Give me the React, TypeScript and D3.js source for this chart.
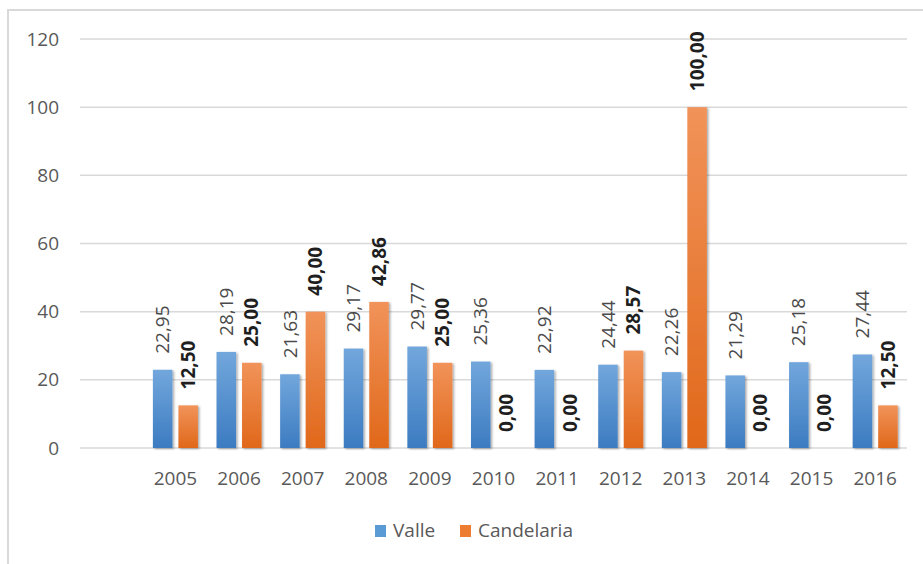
import React, { useEffect, useRef } from 'react';
import * as d3 from 'd3';

const years = ['2005', '2006', '2007', '2008', '2009', '2010', '2011', '2012', '2013', '2014', '2015', '2016'];
const valle = [22.95, 28.19, 21.63, 29.17, 29.77, 25.36, 22.92, 24.44, 22.26, 21.29, 25.18, 27.44];
const candelaria = [12.5, 25, 40, 42.86, 25, 0, 0, 28.57, 100, 0, 0, 12.5];
const seriesNames = ['Valle', 'Candelaria'];
const yTicks = [0, 20, 40, 60, 80, 100, 120];

const FONT = '"Open Sans", "Liberation Sans", sans-serif';
const FS = '19px';

const App = () => {
  const ref = useRef<SVGSVGElement>(null);

  useEffect(() => {
    const svg = d3.select(ref.current);
    svg.selectAll('*').remove();

    // Excel leaves an empty first category, so the band starts with ''
    const x0 = d3.scaleBand().domain(['', ...years]).range([80, 907]).paddingInner(0.292).paddingOuter(0.146);
    const x1 = d3.scaleBand().domain(seriesNames).range([0, x0.bandwidth()]).paddingInner(0.235);
    const y = d3.scaleLinear().domain([0, 120]).range([448, 39]);

    const defs = svg.append('defs');
    const grads = [
      { id: 'gValle', top: '#72a7dc', bottom: '#3c7bc1' },
      { id: 'gCand', top: '#f1935a', bottom: '#e0681a' },
    ];
    grads.forEach((g) => {
      const lg = defs.append('linearGradient').attr('id', g.id).attr('x1', 0).attr('y1', 0).attr('x2', 0).attr('y2', 1);
      lg.append('stop').attr('offset', '0%').attr('stop-color', g.top);
      lg.append('stop').attr('offset', '100%').attr('stop-color', g.bottom);
    });
    defs
      .append('filter')
      .attr('id', 'shadow')
      .attr('x', '-20%')
      .attr('y', '-5%')
      .attr('width', '160%')
      .attr('height', '115%')
      .append('feDropShadow')
      .attr('dx', 1.5)
      .attr('dy', 1)
      .attr('stdDeviation', 1.3)
      .attr('flood-color', '#000')
      .attr('flood-opacity', 0.35);

    // chart frame
    svg
      .append('rect')
      .attr('x', 8)
      .attr('y', 10)
      .attr('width', 940)
      .attr('height', 600)
      .attr('fill', '#fff')
      .attr('stroke', '#d9d9d9')
      .attr('stroke-width', 2);

    // gridlines
    svg
      .append('g')
      .selectAll('line')
      .data(yTicks)
      .enter()
      .append('line')
      .attr('x1', 80)
      .attr('x2', 907)
      .attr('y1', (d) => y(d))
      .attr('y2', (d) => y(d))
      .attr('stroke', '#d9d9d9')
      .attr('stroke-width', 1.5);

    // y labels
    svg
      .append('g')
      .selectAll('text')
      .data(yTicks)
      .enter()
      .append('text')
      .attr('x', 59)
      .attr('y', (d) => y(d))
      .attr('dy', '0.35em')
      .attr('text-anchor', 'end')
      .style('font-family', FONT)
      .style('font-size', FS)
      .attr('fill', '#595959')
      .text((d) => d);

    // x labels
    svg
      .append('g')
      .selectAll('text')
      .data(years)
      .enter()
      .append('text')
      .attr('x', (d) => (x0(d) as number) + x0.bandwidth() / 2)
      .attr('y', 485)
      .attr('text-anchor', 'middle')
      .style('font-family', FONT)
      .style('font-size', FS)
      .attr('fill', '#595959')
      .text((d) => d);

    const series = [
      { name: 'Valle', values: valle, fill: 'url(#gValle)', bold: false, color: '#4a4a4a' },
      { name: 'Candelaria', values: candelaria, fill: 'url(#gCand)', bold: true, color: '#1f1f1f' },
    ];

    series.forEach((s) => {
      const off = x1(s.name) as number;
      svg
        .append('g')
        .selectAll('rect')
        .data(s.values)
        .enter()
        .append('rect')
        .attr('x', (_d, i) => (x0(years[i]) as number) + off)
        .attr('y', (d) => y(d))
        .attr('width', x1.bandwidth())
        .attr('height', (d) => y(0) - y(d))
        .attr('fill', s.fill)
        .attr('filter', 'url(#shadow)');

      svg
        .append('g')
        .selectAll('text')
        .data(s.values)
        .enter()
        .append('text')
        .attr('transform', (d, i) => {
          const cx = (x0(years[i]) as number) + off + x1.bandwidth() / 2;
          return `translate(${cx}, ${y(d) - 16}) rotate(-90)`;
        })
        .attr('dy', '0.35em')
        .attr('text-anchor', 'start')
        .style('font-family', FONT)
        .style('font-size', FS)
        .style('font-weight', s.bold ? 700 : 400)
        .attr('fill', s.color)
        .text((d) => d.toFixed(2).replace('.', ','));
    });

    // legend
    const legend = svg.append('g');
    const legendItems = [
      { name: 'Valle', color: '#5b9bd5', x: 375 },
      { name: 'Candelaria', color: '#ed7d31', x: 460 },
    ];
    legendItems.forEach((l) => {
      legend.append('rect').attr('x', l.x).attr('y', 525).attr('width', 11).attr('height', 12).attr('fill', l.color);
      legend
        .append('text')
        .attr('x', l.x + 18)
        .attr('y', 537)
        .style('font-family', FONT)
        .style('font-size', FS)
        .attr('fill', '#595959')
        .text(l.name);
    });
  }, []);

  return (
    <svg
      ref={ref}
      width={923}
      height={564}
      style={{ position: 'absolute', left: 0, top: 0, background: '#fff' }}
    ></svg>
  );
};

export default App;
